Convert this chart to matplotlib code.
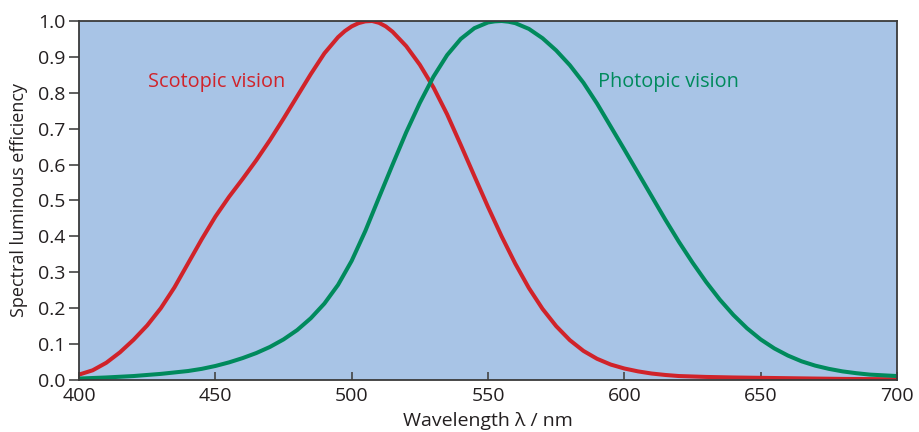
import matplotlib
matplotlib.use("Agg")
import matplotlib.pyplot as plt

plt.rcParams['font.family'] = ['Open Sans', 'DejaVu Sans']

# Scotopic (rod) luminous efficiency
scot_wl = [400, 405, 410, 415, 420, 425, 430, 435, 440, 445, 450, 455, 460, 465,
           470, 475, 480, 485, 490, 495, 497.5, 500, 502.5, 505, 507.5, 510, 512.5,
           515, 520, 525, 530, 535, 540, 545, 550, 555, 560, 565, 570, 575, 580,
           585, 590, 595, 600, 605, 610, 615, 620, 630, 640, 650, 660, 670, 680,
           690, 700]
scot_val = [0.015, 0.027, 0.048, 0.077, 0.112, 0.152, 0.200, 0.258, 0.325, 0.392,
            0.455, 0.510, 0.560, 0.612, 0.668, 0.728, 0.790, 0.852, 0.910, 0.955,
            0.972, 0.985, 0.994, 0.999, 1.000, 0.995, 0.985, 0.970, 0.930, 0.878,
            0.815, 0.740, 0.655, 0.568, 0.482, 0.400, 0.324, 0.256, 0.198, 0.150,
            0.111, 0.081, 0.059, 0.043, 0.032, 0.024, 0.018, 0.014, 0.011, 0.0085,
            0.007, 0.006, 0.005, 0.004, 0.003, 0.0025, 0.002]

# Photopic (cone) luminous efficiency
phot_wl = [400, 410, 420, 430, 440, 445, 450, 455, 460, 465, 470, 475, 480, 485,
           490, 495, 500, 505, 510, 515, 520, 525, 530, 535, 540, 545, 550, 552.5,
           555, 557.5, 560, 565, 570, 575, 580, 585, 590, 595, 600, 605, 610, 615,
           620, 625, 630, 635, 640, 645, 650, 655, 660, 665, 670, 675, 680, 685,
           690, 695, 700]
phot_val = [0.004, 0.007, 0.011, 0.017, 0.025, 0.031, 0.039, 0.049, 0.061, 0.075,
            0.092, 0.113, 0.139, 0.172, 0.213, 0.265, 0.332, 0.415, 0.508, 0.600,
            0.690, 0.772, 0.845, 0.905, 0.950, 0.980, 0.996, 0.999, 1.000, 0.998,
            0.994, 0.978, 0.952, 0.918, 0.877, 0.828, 0.770, 0.706, 0.642, 0.577,
            0.512, 0.447, 0.385, 0.327, 0.273, 0.224, 0.181, 0.144, 0.113, 0.088,
            0.068, 0.052, 0.040, 0.031, 0.024, 0.019, 0.015, 0.013, 0.011]

x_ticks = [400, 450, 500, 550, 600, 650, 700]
y_ticks = [0.0, 0.1, 0.2, 0.3, 0.4, 0.5, 0.6, 0.7, 0.8, 0.9, 1.0]

RED = '#d0232a'
GREEN = '#008a5c'
BG = '#a8c4e6'
TXT = '#231f20'

fig = plt.figure(figsize=(9.2, 4.32), dpi=100)
ax = fig.add_axes([0.0859, 0.1204, 0.975 - 0.0859, 0.9514 - 0.1204])
ax.set_facecolor(BG)

ax.plot(scot_wl, scot_val, color=RED, lw=2.9, solid_joinstyle='round')
ax.plot(phot_wl, phot_val, color=GREEN, lw=2.9, solid_joinstyle='round')

ax.set_xlim(400, 700)
ax.set_ylim(0, 1.0)
ax.set_xticks(x_ticks)
ax.set_xticklabels([str(v) for v in x_ticks])
ax.set_yticks(y_ticks)
ax.set_yticklabels([f"{v:.1f}" for v in y_ticks])

ax.tick_params(axis='x', direction='in', length=6, width=1.2, color='#444444',
               labelsize=14, labelcolor=TXT, pad=5)
ax.tick_params(axis='y', direction='out', length=7, width=1.2, color='#444444',
               labelsize=14, labelcolor=TXT, pad=3)

for s in ax.spines.values():
    s.set_color('#3a3a3a')
    s.set_linewidth(1.3)

ax.set_xlabel('Wavelength λ / nm', fontsize=14, color=TXT, labelpad=5)
ax.set_ylabel('Spectral luminous efficiency', fontsize=13, color=TXT, labelpad=7)

ax.text(0.0845, 0.83, 'Scotopic vision', transform=ax.transAxes, color=RED,
        fontsize=14.3, ha='left', va='center')
ax.text(0.635, 0.83, 'Photopic vision', transform=ax.transAxes, color=GREEN,
        fontsize=14.3, ha='left', va='center')

fig.savefig('out.png', dpi=100)
